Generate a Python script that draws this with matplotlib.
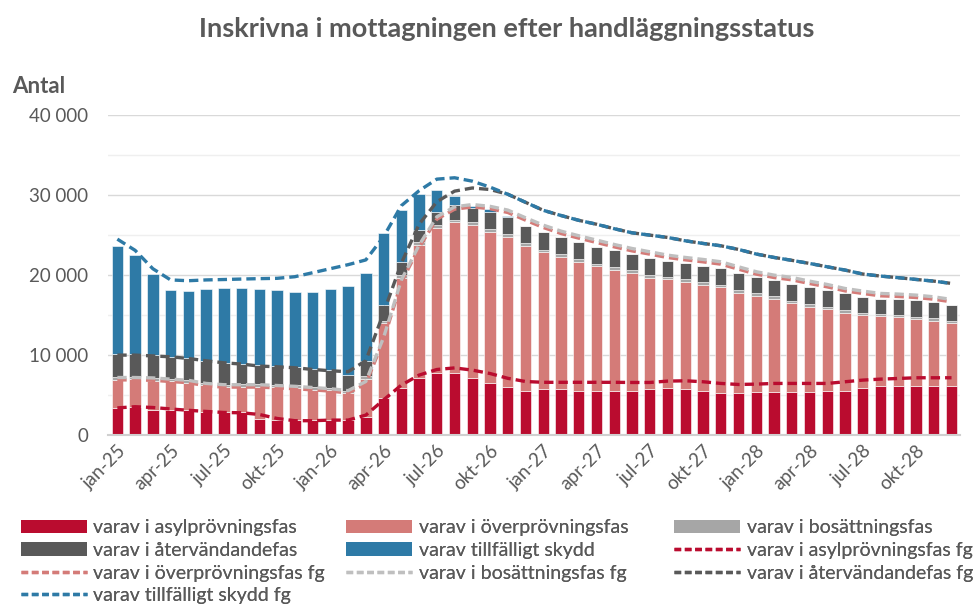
import matplotlib.pyplot as plt
import numpy as np
from matplotlib.patches import Patch
from matplotlib.lines import Line2D

plt.rcParams['font.family'] = ['Lato', 'DejaVu Sans']

# månader jan-25 .. dec-28
man = ['jan', 'feb', 'mar', 'apr', 'maj', 'jun', 'jul', 'aug', 'sep', 'okt', 'nov', 'dec']
ar = ['25', '26', '27', '28']
etiketter = [m + '-' + a for a in ar for m in man]

# staplar (aktuell prognos), antal per fas
asyl = [3330, 3500, 3200, 3125, 3100, 2950, 2830, 2830, 2000, 1950, 1900, 1900,
        1950, 1950, 2300, 4580, 5920, 7080, 7710, 7790, 7170, 6540, 6040, 5540,
        5710, 5710, 5540, 5540, 5540, 5540, 5750, 5920, 5710, 5540, 5290, 5210,
        5420, 5420, 5420, 5420, 5540, 5540, 5920, 6125, 6125, 6170, 6170, 6170]
overprov = [3550, 3500, 3600, 3620, 3450, 3300, 3220, 3220, 4040, 4050, 4050, 3800,
            3700, 3300, 4750, 9380, 13750, 16670, 18210, 18790, 19080, 18880, 18750, 18130,
            17120, 16580, 16130, 15590, 15090, 14750, 13920, 13580, 13420, 13210, 13170, 12500,
            11960, 11620, 11040, 10620, 10210, 9750, 9120, 8750, 8590, 8330, 8080, 7790]
bosatt = [330, 250, 350, 300, 300, 250, 250, 300, 310, 300, 300, 300,
          300, 250, 300, 340, 330, 350, 380, 320, 350, 380, 360, 330,
          320, 310, 330, 275, 325, 310, 330, 300, 325, 350, 340, 390,
          325, 310, 340, 360, 300, 310, 260, 275, 290, 300, 350, 340]
atervand = [2925, 2875, 2850, 2750, 2750, 2800, 2750, 2600, 2400, 2350, 2300, 2300,
            2250, 2050, 1950, 1950, 1580, 1525, 1620, 1850, 1820, 2120, 2140, 2125,
            2270, 2190, 2170, 2060, 2175, 1980, 2080, 1950, 2010, 2025, 2120, 2110,
            2010, 2025, 2120, 2140, 2075, 2110, 1990, 1850, 2000, 2075, 1980, 1950]
tillf = [13480, 12380, 10200, 8350, 8450, 8950, 9300, 9500, 9500, 9450, 9350, 9550,
         10050, 11150, 10950, 9050, 6550, 4460, 2700, 1170, 280, 290, 110, 75,
         0, 0, 0, 0, 0, 0, 0, 0, 0, 0, 0, 0,
         0, 0, 0, 0, 0, 0, 0, 0, 0, 0, 0, 0]

# föregående prognos (fg), staplade linjer
asyl_fg = [3400, 3550, 3450, 3270, 3100, 2960, 2830, 2790, 2580, 2080, 1800, 1800,
           1875, 1875, 2500, 4400, 6250, 7500, 8200, 8400, 8125, 7700, 7100, 6700,
           6600, 6600, 6600, 6600, 6600, 6580, 6580, 6750, 6790, 6670, 6460, 6330,
           6375, 6460, 6460, 6460, 6460, 6670, 6875, 7000, 7080, 7170, 7170, 7170]
overprov_fg = [3500, 3350, 3400, 3430, 3450, 3200, 3170, 3210, 3420, 3820, 4000, 3850,
               3630, 3380, 3900, 7500, 12830, 15950, 18790, 19840, 20400, 20600, 20730, 20170,
               19350, 18600, 18020, 17480, 16930, 16450, 16040, 15450, 15120, 14990, 14910, 14410,
               13750, 13240, 12950, 12490, 12070, 11360, 10830, 10410, 10250, 10030, 9820, 9490]
bosatt_fg = [300] * 48
atervand_fg = [2800, 2800, 2750, 2790, 2730, 2830, 2740, 2580, 2330, 2340, 2320, 2260,
               2240, 2370, 2600, 3100, 2100, 2600, 1880, 1960, 2070, 2100, 1980, 1930,
               1850, 1950, 1930, 1980, 1970, 1960, 2080, 2210, 2080, 2000, 2000, 2170,
               2210, 2210, 2140, 2210, 2210, 2300, 2130, 2170, 2050, 1960, 1960, 2000]
tillf_fg = [14500, 13100, 10900, 9610, 9720, 10110, 10410, 10630, 10930, 11060, 11380, 12090,
            12760, 13380, 12600, 9500, 7200, 4200, 2830, 1670, 850, 300, 0, 0,
            0, 0, 0, 0, 0, 0, 0, 0, 0, 0, 0, 0,
            0, 0, 0, 0, 0, 0, 0, 0, 0, 0, 0, 0]

namn = ['varav i asylprövningsfas', 'varav i överprövningsfas', 'varav i bosättningsfas',
        'varav i återvändandefas', 'varav tillfälligt skydd']
farger = ['#BA0C2F', '#D47B78', '#A6A6A6', '#595959', '#2E7AA6']
farger_fg = ['#BA0C2F', '#D47B78', '#BFBFBF', '#595959', '#2E7AA6']
grå = '#595959'

x = np.arange(len(etiketter))
staplar = [asyl, overprov, bosatt, atervand, tillf]
linjer = [asyl_fg, overprov_fg, bosatt_fg, atervand_fg, tillf_fg]

fig = plt.figure(figsize=(9.78, 6.06), dpi=100)
ax = fig.add_axes([0.110, 0.282, 0.872, 0.528])

botten = np.zeros(len(x))
for serie, f in zip(staplar, farger):
    ax.bar(x, serie, bottom=botten, width=0.64, color=f, edgecolor='white', linewidth=0.4, zorder=2)
    botten = botten + np.array(serie)

niva = np.cumsum(np.array(linjer), axis=0)
for i in range(5):
    ax.plot(x, niva[i], color=farger_fg[i], lw=2.4, dashes=(2.8, 1.5), zorder=3 + i)

ax.set_ylim(0, 40000)
ax.set_xlim(-0.55, 47.5)
ax.set_yticks(np.arange(0, 40001, 10000))
ax.set_yticks(np.arange(5000, 40000, 10000), minor=True)
ax.set_yticklabels([f'{v:,}'.replace(',', ' ') for v in range(0, 40001, 10000)])
ax.grid(axis='y', which='major', color='#D9D9D9', lw=1, zorder=0)
ax.grid(axis='y', which='minor', color='#EFEFEF', lw=1, zorder=0)
ax.set_axisbelow(True)
ax.set_xticks(x[::3])
ax.set_xticklabels(etiketter[::3], rotation=45, ha='right', rotation_mode='anchor')
ax.tick_params(axis='both', which='both', length=0)
ax.tick_params(axis='both', labelsize=13.5, colors=grå)
ax.tick_params(axis='y', pad=14)
ax.tick_params(axis='x', pad=5)
for s in ['top', 'right', 'left']:
    ax.spines[s].set_visible(False)
ax.spines['bottom'].set_color('#D0D0D0')
ax.spines['bottom'].set_linewidth(1.5)

fig.text(0.518, 0.952, 'Inskrivna i mottagningen efter handläggningsstatus', ha='center', va='center',
         fontsize=19.5, fontweight='bold', color=grå)
fig.text(0.012, 0.858, 'Antal', ha='left', va='center', fontsize=16, fontweight='bold', color=grå)

# legend i tre kolumner
h_bar = [Patch(facecolor=f) for f in farger]
h_fg = [Line2D([0], [0], color=f, lw=2.4, dashes=(2.0, 1.1)) for f in farger_fg]
lab_fg = [n + ' fg' for n in namn]
kolumner = [
    ([h_bar[0], h_bar[3], h_fg[1], h_fg[4]], [namn[0], namn[3], lab_fg[1], lab_fg[4]], 0.021),
    ([h_bar[1], h_bar[4], h_fg[2]], [namn[1], namn[4], lab_fg[2]], 0.354),
    ([h_bar[2], h_fg[0], h_fg[3]], [namn[2], lab_fg[0], lab_fg[3]], 0.689),
]
for h, l, xpos in kolumner:
    leg = fig.legend(h, l, loc='upper left', bbox_to_anchor=(xpos, 0.143), frameon=False,
                     fontsize=14, handlelength=3.4, handleheight=0.7, handletextpad=0.35,
                     labelspacing=0.29, borderaxespad=0, borderpad=0)
    for t in leg.get_texts():
        t.set_color(grå)
    fig.add_artist(leg)

fig.savefig('out.png', dpi=100)
